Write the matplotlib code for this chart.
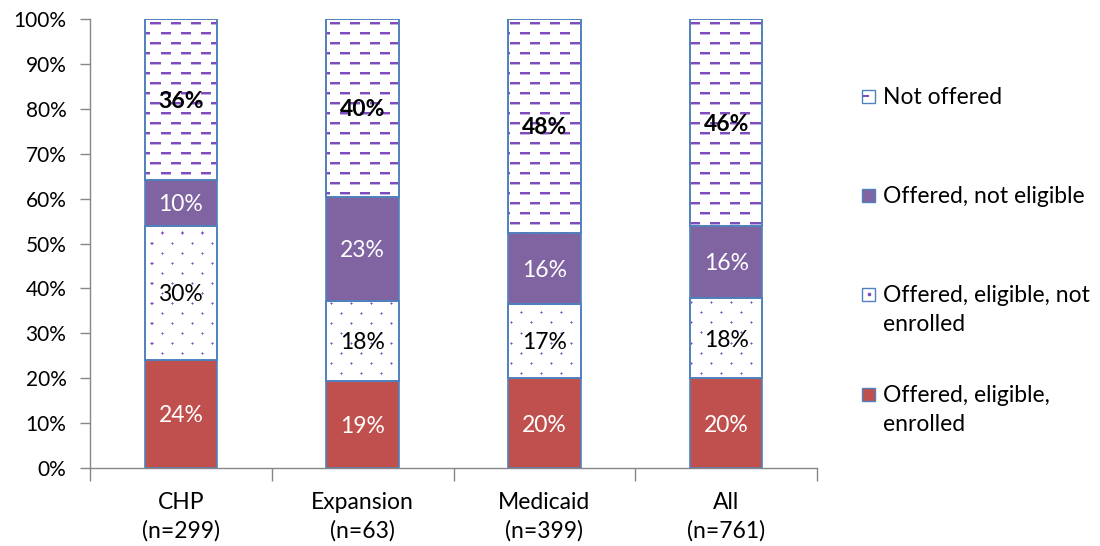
import numpy as np
import matplotlib
matplotlib.use('Agg')
import matplotlib.pyplot as plt
from matplotlib.patches import Rectangle
from matplotlib.lines import Line2D

plt.rcParams['font.family'] = ['Lato', 'DejaVu Sans']

# data (percent of each group)
groups = ['CHP\n(n=299)', 'Expansion\n(n=63)', 'Medicaid\n(n=399)', 'All\n(n=761)']
enrolled = [24.1, 19.4, 20.0, 20.0]          # Offered, eligible, enrolled
not_enrolled = [29.9, 17.8, 16.6, 17.9]      # Offered, eligible, not enrolled
not_eligible = [10.2, 23.2, 15.8, 16.0]      # Offered, not eligible
not_offered = [35.8, 39.6, 47.6, 46.1]       # Not offered

legend_labels = ['Not offered', 'Offered, not eligible',
                 'Offered, eligible, not\nenrolled', 'Offered, eligible,\nenrolled']

RED = '#C0504D'
PURPLE = '#8064A2'
EDGE = '#4F81BD'
HATCH = (0.50, 0.30, 0.75)
AXIS = '#868686'
FS = 16.5

W, H, DPI = 1100, 546, 100
fig = plt.figure(figsize=(W / DPI, H / DPI), dpi=DPI)
ax_l, ax_r, ax_b, ax_t = 90, 817, 468, 19
ax = fig.add_axes([ax_l / W, 1 - ax_b / H, (ax_r - ax_l) / W, (ax_b - ax_t) / H])

x = np.arange(len(groups))
width = 0.4


def texture(kind):
    # pixel pattern sized to the axes area, clipped later to a bar
    pw, ph = ax_r - ax_l, ax_b - ax_t
    img = np.ones((ph, pw, 4))
    img[..., 3] = 0
    for r, y in enumerate(range(3, ph, 10)):
        off = 0 if r % 2 == 0 else 10
        for xx in range(off, pw, 20):
            if kind == 'dash':
                img[y:y + 3, xx:xx + 10, :3] = HATCH
                img[y:y + 3, xx:xx + 10, 3] = 1
                img[y + 2, xx:xx + 10, 3] = 0.45
            else:
                img[y:y + 3, xx:xx + 3, :3] = HATCH
                img[y:y + 3, xx + 1, 3] = 0.6
                img[y + 1, xx:xx + 3, 3] = 0.6
                img[y + 1, xx + 1, 3] = 1
    return img


dash_img = texture('dash')
dot_img = texture('dot')

b0 = np.zeros(len(groups))
b1 = b0 + np.array(enrolled)
b2 = b1 + np.array(not_enrolled)
b3 = b2 + np.array(not_eligible)

ax.bar(x, enrolled, width, bottom=b0, color=RED, edgecolor=EDGE, linewidth=1.2, zorder=2)
bars_dot = ax.bar(x, not_enrolled, width, bottom=b1, color='white', edgecolor=EDGE, linewidth=1.2, zorder=2)
ax.bar(x, not_eligible, width, bottom=b2, color=PURPLE, edgecolor=EDGE, linewidth=1.2, zorder=2)
bars_dash = ax.bar(x, not_offered, width, bottom=b3, color='white', edgecolor=EDGE, linewidth=1.2, zorder=2)

ext = [-0.5, 3.5, 0, 100]
for bars, img in [(bars_dot, dot_img), (bars_dash, dash_img)]:
    for p in bars:
        im = ax.imshow(img, extent=ext, origin='upper', interpolation='nearest',
                       aspect='auto', zorder=2.5)
        im.set_clip_path(p)
        edge = Rectangle(p.get_xy(), p.get_width(), p.get_height(), fill=False,
                         edgecolor=EDGE, linewidth=1.2, zorder=3)
        ax.add_patch(edge)

# segment labels
for i in range(len(groups)):
    ax.text(x[i], b0[i] + enrolled[i] / 2, f'{enrolled[i]:.0f}%', ha='center', va='center_baseline',
            color='white', fontsize=FS, zorder=4)
    ax.text(x[i], b1[i] + not_enrolled[i] / 2, f'{not_enrolled[i]:.0f}%', ha='center', va='center_baseline',
            color='black', fontsize=FS, zorder=4)
    ax.text(x[i], b2[i] + not_eligible[i] / 2, f'{not_eligible[i]:.0f}%', ha='center', va='center_baseline',
            color='white', fontsize=FS, zorder=4)
    ax.text(x[i], b3[i] + not_offered[i] / 2, f'{not_offered[i]:.0f}%', ha='center', va='center_baseline',
            color='black', fontsize=FS, fontweight='bold', zorder=4)

ax.set_xlim(-0.5, 3.5)
ax.set_ylim(0, 100)
ax.set_yticks(np.arange(0, 101, 10))
ax.set_yticklabels([f'{v}%' for v in range(0, 101, 10)])
ax.set_xticks(x)
ax.set_xticklabels(groups, linespacing=1.45)
ax.set_xticks(np.arange(-0.5, 3.6, 1), minor=True)
ax.tick_params(axis='x', which='major', length=0, pad=17, labelsize=FS)
ax.tick_params(axis='x', which='minor', length=9, color=AXIS, width=1)
ax.tick_params(axis='y', length=7, color=AXIS, width=1, pad=10, labelsize=15)
for s in ['top', 'right']:
    ax.spines[s].set_visible(False)
for s in ['left', 'bottom']:
    ax.spines[s].set_color(AXIS)
    ax.spines[s].set_linewidth(1)

# legend drawn by hand so the key sits next to the first text line
leg_y = [96, 195, 294, 394]
leg_face = ['white', PURPLE, 'white', RED]
leg_mark = ['dash', None, 'dot', None]
line_gap = 29
for lab, yy, fc, mk in zip(legend_labels, leg_y, leg_face, leg_mark):
    fig.patches.append(Rectangle((862 / W, 1 - (yy + 7) / H), 13 / W, 13 / H,
                                 facecolor=fc, edgecolor=EDGE, linewidth=1,
                                 transform=fig.transFigure, figure=fig))
    if mk == 'dash':
        fig.lines.append(Line2D([864 / W, 868 / W], [1 - yy / H] * 2, color=HATCH,
                                linewidth=1.5, transform=fig.transFigure, figure=fig))
    elif mk == 'dot':
        fig.lines.append(Line2D([868.5 / W], [1 - yy / H], marker='s', markersize=1.5,
                                color=HATCH, transform=fig.transFigure, figure=fig))
    for k, line in enumerate(lab.split('\n')):
        fig.text(883 / W, 1 - (yy + 8 + k * line_gap) / H, line, ha='left', va='baseline',
                 fontsize=FS, transform=fig.transFigure)

fig.savefig('out.png', dpi=DPI)
